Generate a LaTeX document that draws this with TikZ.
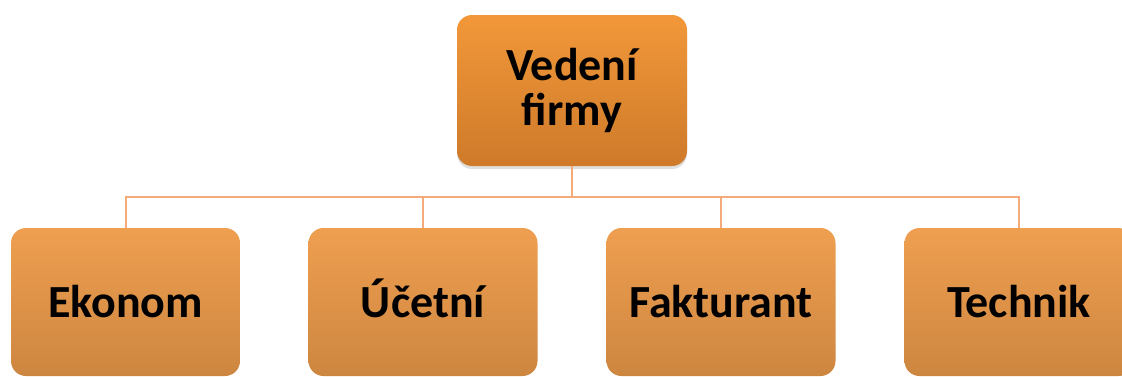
\documentclass[tikz,border=0pt]{standalone}
\usepackage{fontspec}
\setmainfont{Carlito}
\usetikzlibrary{shadows}
\definecolor{toptop}{RGB}{242,152,58}
\definecolor{topbot}{RGB}{206,122,42}
\definecolor{subtop}{RGB}{239,159,80}
\definecolor{subbot}{RGB}{205,134,64}
\definecolor{linec}{RGB}{244,170,122}
\begin{document}
\begin{tikzpicture}[x=1pt,y=1pt,
  topbox/.style={rectangle, rounded corners=15pt, minimum width=230pt, minimum height=151pt,
    top color=toptop, bottom color=topbot,
    drop shadow={shadow xshift=0pt, shadow yshift=-3pt, opacity=0.25},
    font=\fontsize{46}{45}\selectfont\bfseries, align=center, inner sep=0pt},
  subbox/.style={rectangle, rounded corners=15pt, minimum width=229pt, minimum height=148pt,
    top color=subtop, bottom color=subbot, text height=30pt, text depth=0pt,
    font=\fontsize{46}{45}\selectfont\bfseries, inner sep=0pt},
  conn/.style={draw=linec, line width=2pt}]
\useasboundingbox (0,0) rectangle (1122,376);
\clip (0,0) rectangle (1122,376);
\fill[white] (0,0) rectangle (1122,376);
\node[topbox] (top) at (572,285.5) {Vedení\\firmy};
\node[subbox] (b1) at (125.5,74) {Ekonom};
\node[subbox] (b2) at (423,74) {Účetní};
\node[subbox] (b3) at (721,74) {Fakturant};
\node[subbox] (b4) at (1019,74) {Technik};
\coordinate (hub) at (572,179);
\draw[conn] (top.south) -- (hub);
\draw[conn] (b1.north) |- (hub);
\draw[conn] (b2.north) |- (hub);
\draw[conn] (b3.north) |- (hub);
\draw[conn] (b4.north) |- (hub);
\end{tikzpicture}
\end{document}
